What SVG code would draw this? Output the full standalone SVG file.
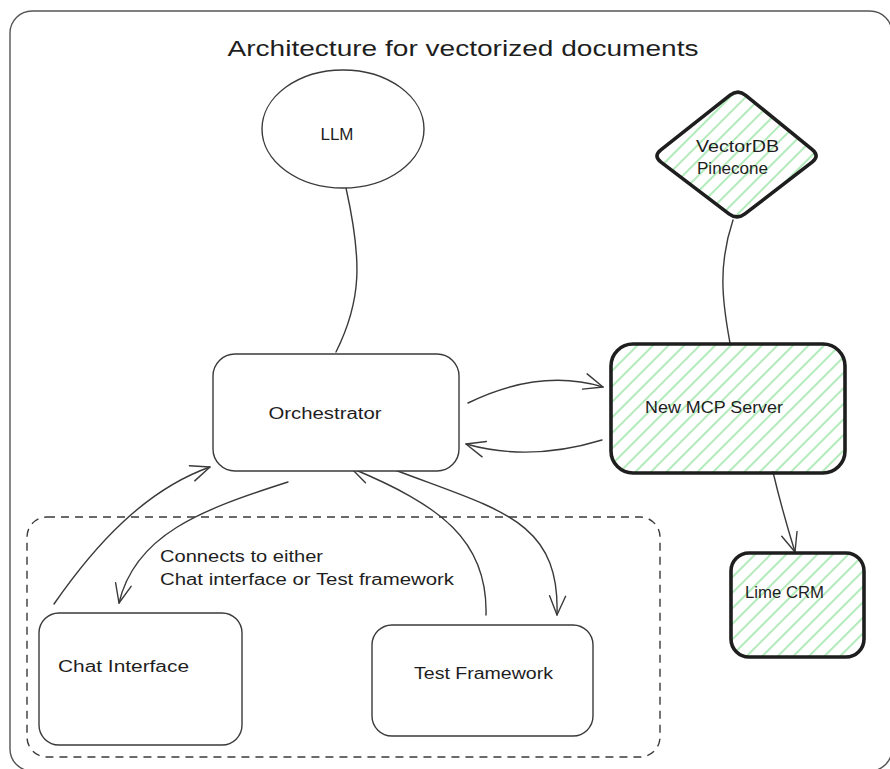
<svg xmlns="http://www.w3.org/2000/svg" width="890" height="769" viewBox="0 0 890 769">
<defs>
<pattern id="hatch" patternUnits="userSpaceOnUse" width="11" height="11" patternTransform="rotate(45)">
<line x1="2" y1="0" x2="2" y2="11" stroke="#9fe6aa" stroke-width="1.6"/>
</pattern>
<marker id="arr" viewBox="-20 -10 24 20" refX="0" refY="0" markerWidth="24" markerHeight="20" markerUnits="userSpaceOnUse" orient="auto">
<path d="M-19,-8 L0,0 L-19,8" fill="none" stroke="#3a3a3a" stroke-width="1.4" stroke-linecap="round" stroke-linejoin="round"/>
</marker>
</defs>
<style>
.thin{fill:#fff;stroke:#3a3a3a;stroke-width:1.4}
.thick{fill:url(#hatch);stroke:#1e1e1e;stroke-width:3.6}
.conn{fill:none;stroke:#3a3a3a;stroke-width:1.4;stroke-linecap:round}
.lbl{font-family:"Liberation Sans",Arial,sans-serif;font-size:16px;fill:#1e1e1e}
</style>
<rect x="0" y="0" width="890" height="769" fill="#fff"/>
<g id="frame">
<rect x="10" y="11" width="882" height="760" rx="22" fill="none" stroke="#555" stroke-width="1.4"/>
<text x="463" y="56" text-anchor="middle" class="lbl" style="font-size:22px" textLength="471" lengthAdjust="spacingAndGlyphs">Architecture for vectorized documents</text>
</g>
<g id="group-box">
<rect x="27" y="517" width="633" height="240" rx="20" fill="none" stroke="#3a3a3a" stroke-width="1.4" stroke-dasharray="8 6"/>
</g>
<g id="connectors">
<path class="conn" d="M346,188 C362,260 362,300 336,352"/>
<path class="conn" d="M733,220 C718,265 722,300 730,343"/>
<path class="conn" marker-end="url(#arr)" d="M468,403 Q540,368 603,387"/>
<path class="conn" marker-end="url(#arr)" d="M602,440 Q530,462 466,444"/>
<path class="conn" marker-end="url(#arr)" d="M773,472 Q782,510 795,552"/>
<path class="conn" marker-end="url(#arr)" d="M54,604 C95,545 145,490 210,467"/>
<path class="conn" marker-end="url(#arr)" d="M288,482 C200,510 135,535 119,603"/>
<path class="conn" marker-end="url(#arr)" d="M486,615 C488,540 440,505 351,468"/>
<path class="conn" marker-end="url(#arr)" d="M395,470 C500,510 560,520 557,615"/>
</g>
<g id="llm">
<ellipse cx="343" cy="129" rx="81" ry="59" class="thin"/>
<text x="337" y="140" text-anchor="middle" class="lbl" textLength="33" lengthAdjust="spacingAndGlyphs">LLM</text>
</g>
<g id="orchestrator">
<rect x="213" y="354" width="246" height="117" rx="22" class="thin"/>
<text x="325" y="419" text-anchor="middle" class="lbl" textLength="113" lengthAdjust="spacingAndGlyphs">Orchestrator</text>
</g>
<g id="vectordb">
<path class="thick" d="M745.7,95.3 L812.3,149.7 Q820,156 812.1,162.1 L744.9,213.9 Q737,220 729,213.9 L661,162.1 Q653,156 660.9,149.8 L730.1,95.2 Q738,89 745.7,95.3 Z"/>
<text x="696" y="152" class="lbl" textLength="83" lengthAdjust="spacingAndGlyphs">VectorDB</text>
<text x="697" y="174" class="lbl" textLength="71" lengthAdjust="spacingAndGlyphs">Pinecone</text>
</g>
<g id="mcp-server">
<rect x="611" y="344" width="234" height="129" rx="22" class="thick"/>
<text x="645" y="413" class="lbl" textLength="138" lengthAdjust="spacingAndGlyphs">New MCP Server</text>
</g>
<g id="lime-crm">
<rect x="731" y="553" width="133" height="104" rx="18" class="thick"/>
<text x="745" y="598" class="lbl" textLength="79" lengthAdjust="spacingAndGlyphs">Lime CRM</text>
</g>
<g id="chat-interface">
<rect x="39" y="613" width="203" height="132" rx="20" class="thin"/>
<text x="58" y="672" class="lbl" textLength="131" lengthAdjust="spacingAndGlyphs">Chat Interface</text>
</g>
<g id="test-framework">
<rect x="372" y="625" width="221" height="111" rx="20" class="thin"/>
<text x="414" y="679" class="lbl" textLength="139" lengthAdjust="spacingAndGlyphs">Test Framework</text>
</g>
<g id="note">
<text x="160" y="562" class="lbl" textLength="163" lengthAdjust="spacingAndGlyphs">Connects to either</text>
<text x="160" y="585" class="lbl" textLength="294" lengthAdjust="spacingAndGlyphs">Chat interface or Test framework</text>
</g>
</svg>
